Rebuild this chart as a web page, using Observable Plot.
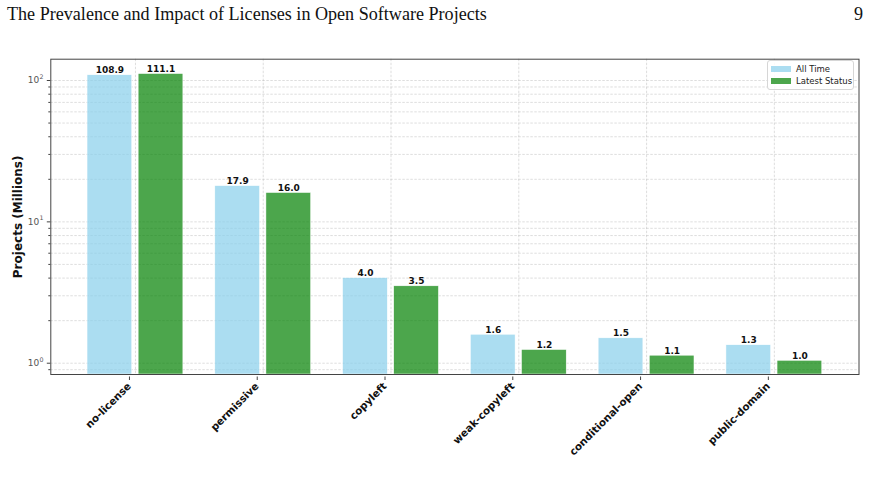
<!DOCTYPE html>
<html>
<head>
<meta charset="utf-8">
<script src="https://cdn.jsdelivr.net/npm/d3@7"></script>
<script src="https://cdn.jsdelivr.net/npm/@observablehq/plot@0.6"></script>
<style>
  html, body { margin: 0; padding: 0; background: #fff; }
  #wrap { position: relative; width: 870px; height: 483px; overflow: hidden; }
  #header { position: absolute; left: 7px; top: 2px; width: 856px; font-family: "Liberation Serif", "DejaVu Serif", serif; font-size: 18.1px; color: #111; display: flex; justify-content: space-between; line-height: 24px; }
  #legend { position: absolute; left: 767px; top: 60px; width: 87px; height: 30px; box-sizing: border-box; border: 1px solid #d6d6d6; border-radius: 3px; background: rgba(255,255,255,0.85); font-family: "DejaVu Sans", sans-serif; font-size: 8.5px; color: #222; }
  .item { position: absolute; left: 3px; display: flex; align-items: center; height: 10px; }
  .sw { width: 20px; height: 6px; margin-right: 5px; }
</style>
</head>
<body>
<div id="wrap">
  <div id="header"><span>The Prevalence and Impact of Licenses in Open Software Projects</span><span>9</span></div>
  <div id="chart"></div>
  <div id="legend"></div>
</div>
<script>
// ---- data ----
const categories = ["no-license", "permissive", "copyleft", "weak-copyleft", "conditional-open", "public-domain"];
const seriesNames = ["All Time", "Latest Status"];
const allTime = [108.9, 17.9, 4.0, 1.59, 1.5, 1.34];
const latestStatus = [111.1, 16.0, 3.5, 1.24, 1.13, 1.04];
const majorTicks = [1, 10, 100];
const minorTicks = [0.9, 2, 3, 4, 5, 6, 7, 8, 9, 20, 30, 40, 50, 60, 70, 80, 90];
const yLabel = "Projects (Millions)";

// ---- style ----
const colors = { "All Time": "#87CEEB", "Latest Status": "#008000" };
const yDomain = [0.832, 141.5];

const rows = [];
categories.forEach((c, i) => {
  rows.push({ category: c, series: seriesNames[0], value: allTime[i] });
  rows.push({ category: c, series: seriesNames[1], value: latestStatus[i] });
});

const width = 870, height = 483;
const marginLeft = 50.3, marginRight = 11.5, marginTop = 58.7, marginBottom = 109;
const paddingInner = 0.25, paddingOuter = 0.2875;
const step = (width - marginLeft - marginRight) / (categories.length - paddingInner + 2 * paddingOuter);
const barInset = 0.4 * step;   // each bar takes 0.35 of a step, gap 0.05
const offset = 0.2 * step;

const gridStyle = { stroke: "#b0b0b0", strokeOpacity: 0.6, strokeDasharray: "2.5,1.5", strokeWidth: 0.7 };

const A = rows.filter(r => r.series === "All Time");
const L = rows.filter(r => r.series === "Latest Status");

const plot = Plot.plot({
  width, height, marginLeft, marginRight, marginTop, marginBottom,
  style: { fontFamily: "DejaVu Sans, sans-serif", background: "transparent", overflow: "visible" },
  x: { type: "band", domain: categories, paddingInner, paddingOuter, round: false, axis: null },
  y: { type: "log", domain: yDomain, axis: null },
  marks: [
    Plot.gridY(majorTicks.concat(minorTicks), gridStyle),
    Plot.gridX(categories, gridStyle),
    Plot.barY(A, { x: "category", y1: yDomain[0], y2: "value", fill: colors["All Time"], fillOpacity: 0.7, stroke: "white", strokeWidth: 0.5, insetRight: barInset }),
    Plot.barY(L, { x: "category", y1: yDomain[0], y2: "value", fill: colors["Latest Status"], fillOpacity: 0.7, stroke: "white", strokeWidth: 0.5, insetLeft: barInset }),
    Plot.text(A, { x: "category", y: "value", text: d => d.value.toFixed(1), dx: -offset, dy: -2, lineAnchor: "bottom", fontSize: 9, fontWeight: "bold", fill: "#111" }),
    Plot.text(L, { x: "category", y: "value", text: d => d.value.toFixed(1), dx: offset, dy: -2, lineAnchor: "bottom", fontSize: 9, fontWeight: "bold", fill: "#111" }),
    Plot.frame({ stroke: "#444", strokeWidth: 1 }),
    Plot.axisY(majorTicks, { tickFormat: () => "", tickSize: 3.5, stroke: "#444", label: null }),
    Plot.axisY(minorTicks, { tickFormat: () => "", tickSize: 2, stroke: "#444", label: null }),
    // major tick labels as 10 with superscript exponent
    Plot.text(majorTicks, { y: d => d, frameAnchor: "left", text: () => "10", textAnchor: "end", dx: -11.5, fontSize: 9, fill: "#555" }),
    Plot.text(majorTicks, { y: d => d, frameAnchor: "left", text: d => String(Math.round(Math.log10(d))), textAnchor: "start", dx: -11.2, dy: -3.5, fontSize: 6.3, fill: "#555" }),
    Plot.axisX(categories, { tickRotate: -45, tickSize: 3.5, tickPadding: 4, dx: -6, dy: 2.5, fontSize: 10.3, fontWeight: "bold", fill: "#111", stroke: "#444", label: null }),
    Plot.text([yLabel], { frameAnchor: "left", textAnchor: "middle", rotate: -90, dx: -33, fontSize: 12, fontWeight: "bold", fill: "#111" })
  ]
});
document.getElementById("chart").appendChild(plot);

// legend
const legend = document.getElementById("legend");
seriesNames.forEach((s, i) => {
  const it = document.createElement("div");
  it.className = "item";
  it.style.top = (3 + i * 12) + "px";
  const sw = document.createElement("div");
  sw.className = "sw";
  sw.style.background = colors[s];
  sw.style.opacity = 0.7;
  const t = document.createElement("span");
  t.textContent = s;
  it.appendChild(sw); it.appendChild(t);
  legend.appendChild(it);
});
</script>
</body>
</html>
